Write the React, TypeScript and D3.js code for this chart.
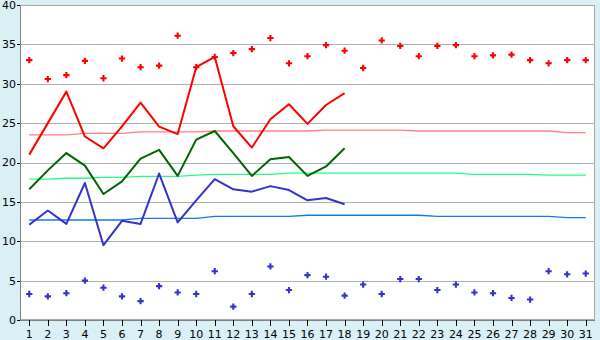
import React from "react";
import * as d3 from "d3";

const days = d3.range(1, 32).map(String);
const yTicks = [0, 5, 10, 15, 20, 25, 30, 35, 40];

// Absolute max (red markers) and min (blue markers), days 1-31
const maxPoints = [33.0, 30.6, 31.1, 32.9, 30.7, 33.2, 32.1, 32.3, 36.1, 32.1, 33.4, 33.9, 34.4, 35.8, 32.6, 33.5, 34.9, 34.2, 32.0, 35.5, 34.8, 33.5, 34.8, 34.9, 33.5, 33.6, 33.7, 33.0, 32.6, 33.0, 33.0];
const minPoints = [3.3, 3.0, 3.4, 5.0, 4.1, 3.0, 2.4, 4.3, 3.5, 3.3, 6.2, 1.7, 3.3, 6.8, 3.8, 5.7, 5.5, 3.1, 4.5, 3.3, 5.2, 5.2, 3.8, 4.5, 3.5, 3.4, 2.8, 2.6, 6.2, 5.8, 5.9];

// Daily max / mean / min lines, days 1-18
const maxLine = [21.0, 25.0, 29.0, 23.3, 21.8, 24.6, 27.6, 24.55, 23.6, 32.1, 33.4, 24.6, 21.9, 25.5, 27.4, 24.9, 27.3, 28.8];
const meanLine = [16.6, 19.0, 21.2, 19.6, 16.0, 17.6, 20.5, 21.6, 18.3, 22.9, 24.0, 21.2, 18.3, 20.4, 20.7, 18.3, 19.5, 21.8];
const minLine = [12.1, 13.9, 12.2, 17.4, 9.5, 12.6, 12.2, 18.6, 12.4, 15.2, 17.9, 16.6, 16.3, 17.0, 16.5, 15.2, 15.5, 14.7];

// Normals, days 1-31
const normalMax = [23.5, 23.5, 23.5, 23.7, 23.7, 23.7, 23.9, 23.9, 23.9, 23.9, 24.0, 24.0, 24.0, 24.0, 24.0, 24.0, 24.1, 24.1, 24.1, 24.1, 24.1, 24.0, 24.0, 24.0, 24.0, 24.0, 24.0, 24.0, 24.0, 23.8, 23.8];
const normalMean = [17.9, 17.9, 18.0, 18.0, 18.1, 18.1, 18.25, 18.25, 18.25, 18.4, 18.5, 18.5, 18.5, 18.5, 18.65, 18.65, 18.65, 18.65, 18.65, 18.65, 18.65, 18.65, 18.65, 18.65, 18.5, 18.5, 18.5, 18.5, 18.4, 18.4, 18.4];
const normalMin = [12.7, 12.7, 12.7, 12.7, 12.7, 12.7, 12.9, 12.9, 12.9, 12.9, 13.15, 13.15, 13.15, 13.15, 13.15, 13.3, 13.3, 13.3, 13.3, 13.3, 13.3, 13.3, 13.15, 13.15, 13.15, 13.15, 13.15, 13.15, 13.15, 13.0, 13.0];

const W = 600, H = 340;
const L = 20, R = 595, T = 5, B = 320;
const FONT = "DejaVu Sans, Verdana, sans-serif";

export default function App() {
  const xb = d3.scaleBand<string>().domain(days).range([L, R]);
  const cx = (i: number) => (xb(days[i]) as number) + xb.step() / 2;
  const y = d3.scaleLinear().domain([0, 40]).range([B, T]);

  const line = d3.line<number>().x((_, i) => cx(i)).y((v) => y(v));
  const cross = d3.symbol().type(d3.symbolCross).size(22)();

  return (
    <div style={{ position: "fixed", left: 0, top: 0 }}>
      <svg width={W} height={H} style={{ display: "block" }}>
        <rect x={0} y={0} width={W} height={H} fill="#D9F0F6" />
        <rect x={L} y={T} width={R - L} height={B - T} fill="#FFFFFF" />
        {yTicks.map((t) => (
          <g key={t}>
            <line x1={L} x2={R} y1={Math.round(y(t)) + 0.5} y2={Math.round(y(t)) + 0.5} stroke="#B0B0B0" strokeWidth={1} />
            <line x1={L - 3} x2={L} y1={Math.round(y(t)) + 0.5} y2={Math.round(y(t)) + 0.5} stroke="#000" strokeWidth={1} />
            <text x={L - 4} y={y(t)} dy="0.36em" textAnchor="end" fontFamily={FONT} fontSize={11} fill="#000">{t}</text>
          </g>
        ))}
        <rect x={L + 0.5} y={T + 0.5} width={R - L - 1} height={B - T - 1} fill="none" stroke="#A8A8A8" strokeWidth={1} />
        <line x1={L + 0.5} x2={L + 0.5} y1={T} y2={B} stroke="#808080" strokeWidth={1} />
        <line x1={L} x2={R} y1={B + 0.5} y2={B + 0.5} stroke="#808080" strokeWidth={1} />
        {days.map((d, i) => (
          <g key={d}>
            <line x1={Math.round(cx(i)) + 0.5} x2={Math.round(cx(i)) + 0.5} y1={B} y2={B + 6} stroke="#000" strokeWidth={1} />
            <text x={cx(i)} y={B + 18} textAnchor="middle" fontFamily={FONT} fontSize={11} fill="#000">{d}</text>
          </g>
        ))}
        <path d={line(normalMax) || ""} fill="none" stroke="#FF8080" strokeWidth={1.3} />
        <path d={line(normalMean) || ""} fill="none" stroke="#22FF88" strokeWidth={1.3} />
        <path d={line(normalMin) || ""} fill="none" stroke="#1478F0" strokeWidth={1.3} />
        <path d={line(maxLine) || ""} fill="none" stroke="#FF0000" strokeWidth={2} strokeLinejoin="round" />
        <path d={line(meanLine) || ""} fill="none" stroke="#006400" strokeWidth={2} strokeLinejoin="round" />
        <path d={line(minLine) || ""} fill="none" stroke="#3333CC" strokeWidth={2} strokeLinejoin="round" />
        {maxPoints.map((v, i) => (
          <path key={"mx" + i} d={cross || ""} transform={`translate(${cx(i)},${y(v)})`} fill="#FF0000" />
        ))}
        {minPoints.map((v, i) => (
          <path key={"mn" + i} d={cross || ""} transform={`translate(${cx(i)},${y(v)})`} fill="#3333CC" />
        ))}
      </svg>
    </div>
  );
}
